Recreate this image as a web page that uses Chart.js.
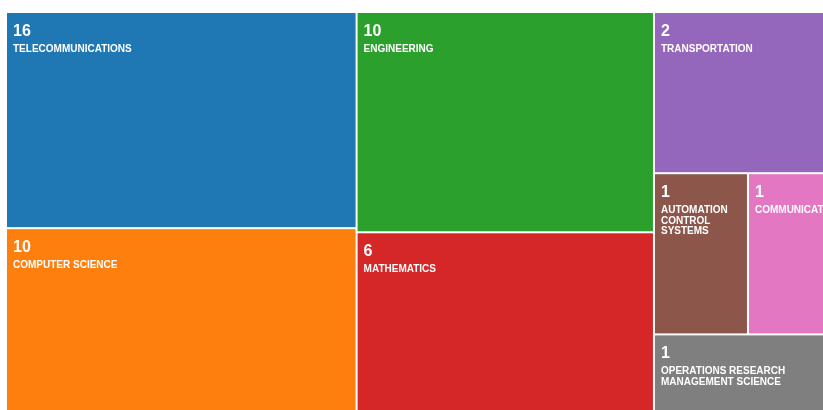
<!DOCTYPE html>
<html>
<head>
<meta charset="utf-8">
<title>Research areas</title>
<script src="https://cdn.jsdelivr.net/npm/chart.js@4.4.1/dist/chart.umd.min.js"></script>
<style>
    html, body { margin: 0; padding: 0; overflow: hidden; background: #fff; }
    #wrap { width: 844px; height: 417px; }
</style>
</head>
<body>
<div id="wrap"><canvas id="chart" width="844" height="417"></canvas></div>
<script>
var categories = [
    "TELECOMMUNICATIONS",
    "COMPUTER SCIENCE",
    "ENGINEERING",
    "MATHEMATICS",
    "TRANSPORTATION",
    "AUTOMATION CONTROL SYSTEMS",
    "COMMUNICATION",
    "OPERATIONS RESEARCH MANAGEMENT SCIENCE"
];
var counts = [16, 10, 10, 6, 2, 1, 1, 1];

var palette = ["#1f77b4", "#ff7f0e", "#2ca02c", "#d62728", "#9467bd", "#8c564b", "#e377c2", "#7f7f7f"];

// plot area in scale units (same as pixels of the chart area)
var W = 836, H = 403;

// tiles are sized on a log scale so the small areas stay readable
function tileWeight(v) {
    return 1 + Math.log2(v);
}

function worst(row, side) {
    var s = 0, mx = 0, mn = Infinity;
    for (var i = 0; i < row.length; i++) {
        s += row[i].area;
        mx = Math.max(mx, row[i].area);
        mn = Math.min(mn, row[i].area);
    }
    return Math.max(side * side * mx / (s * s), (s * s) / (side * side * mn));
}

function squarify(nodes, rect) {
    var out = [];
    var i = 0;
    while (i < nodes.length) {
        var side = Math.min(rect.w, rect.h);
        var row = [nodes[i++]];
        while (i < nodes.length && worst(row.concat([nodes[i]]), side) <= worst(row, side)) {
            row.push(nodes[i++]);
        }
        var s = 0;
        row.forEach(function (n) { s += n.area; });
        if (rect.w >= rect.h) {
            var cw = s / rect.h, yy = rect.y;
            row.forEach(function (n) {
                var hh = n.area / cw;
                out.push({node: n, x0: rect.x, x1: rect.x + cw, y0: yy, y1: yy + hh});
                yy += hh;
            });
            rect = {x: rect.x + cw, y: rect.y, w: rect.w - cw, h: rect.h};
        } else {
            var rh = s / rect.w, xx = rect.x;
            row.forEach(function (n) {
                var ww = n.area / rh;
                out.push({node: n, x0: xx, x1: xx + ww, y0: rect.y, y1: rect.y + rh});
                xx += ww;
            });
            rect = {x: rect.x, y: rect.y + rh, w: rect.w, h: rect.h - rh};
        }
    }
    return out;
}

function buildCells() {
    var nodes = [];
    var total = 0;
    for (var i = 0; i < counts.length; i++) {
        nodes.push({label: categories[i], value: counts[i], color: palette[i], idx: i});
        total += tileWeight(counts[i]);
    }
    nodes.sort(function (a, b) { return b.value - a.value || a.idx - b.idx; });
    nodes.forEach(function (n) { n.area = tileWeight(n.value) / total * W * H; });
    return squarify(nodes, {x: 0, y: 0, w: W, h: H}).map(function (c) {
        return {
            x: (c.x0 + c.x1) / 2, y: (c.y0 + c.y1) / 2,
            x0: c.x0, x1: c.x1, y0: c.y0, y1: c.y1,
            label: c.node.label, value: c.node.value, color: c.node.color
        };
    });
}

function wrapWords(ctx, text, maxWidth) {
    var words = text.split(" ");
    var lines = [];
    var line = "";
    words.forEach(function (w) {
        var test = line ? line + " " + w : w;
        if (line && ctx.measureText(test).width > maxWidth) {
            lines.push(line);
            line = w;
        } else {
            line = test;
        }
    });
    if (line) lines.push(line);
    return lines;
}

var cellPlugin = {
    id: "treemapCells",
    afterDatasetsDraw: function (chart) {
        var ctx = chart.ctx;
        var xs = chart.scales.x, ys = chart.scales.y;
        chart.data.datasets[0].data.forEach(function (c) {
            var left = xs.getPixelForValue(c.x0) + 1;
            var right = xs.getPixelForValue(c.x1) - 1;
            var top = ys.getPixelForValue(c.y0) + 1;
            var bottom = ys.getPixelForValue(c.y1) - 1;
            ctx.save();
            ctx.fillStyle = c.color;
            ctx.fillRect(left, top, right - left, bottom - top);
            ctx.beginPath();
            ctx.rect(left, top, right - left, bottom - top);
            ctx.clip();
            ctx.fillStyle = "#ffffff";
            ctx.textAlign = "left";
            ctx.textBaseline = "alphabetic";
            ctx.font = "bold 16px 'Liberation Sans', Arial, sans-serif";
            ctx.fillText(String(c.value), left + 6, top + 23);
            ctx.font = "bold 10px 'Liberation Sans', Arial, sans-serif";
            var lines = wrapWords(ctx, c.label, right - left - 12);
            lines.forEach(function (ln, k) {
                ctx.fillText(ln, left + 6, top + 39 + k * 10.6);
            });
            ctx.restore();
        });
    }
};

new Chart(document.getElementById("chart"), {
    type: "scatter",
    data: {
        datasets: [{
            data: buildCells(),
            pointRadius: 0,
            pointHoverRadius: 0
        }]
    },
    options: {
        responsive: false,
        animation: false,
        layout: {padding: {left: 6, top: 12, right: 2, bottom: 2}},
        scales: {
            x: {type: "linear", min: 0, max: W, display: false},
            y: {type: "linear", min: 0, max: H, reverse: true, display: false}
        },
        plugins: {
            legend: {display: false},
            tooltip: {enabled: false}
        }
    },
    plugins: [cellPlugin]
});
</script>
</body>
</html>
